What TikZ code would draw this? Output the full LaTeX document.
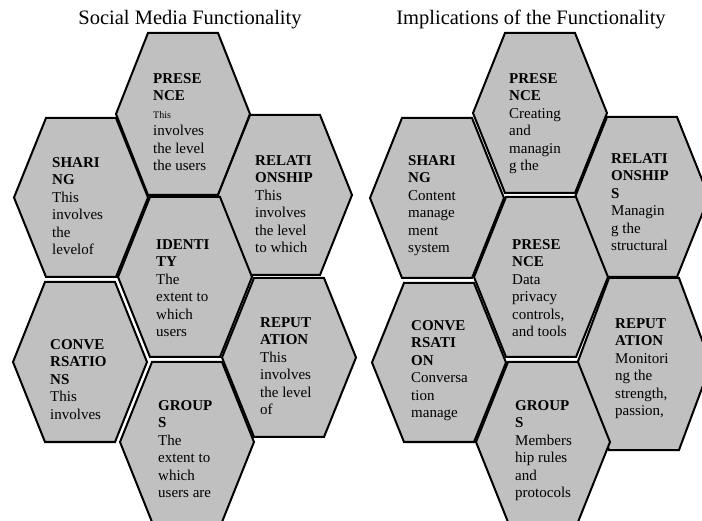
\documentclass[tikz,border=0pt]{standalone}
\usepackage{fontspec}
\setmainfont{Liberation Serif}
\definecolor{hexgray}{RGB}{192,192,192}
\tikzset{
  hexstyle/.style={draw=black, fill=hexgray, line width=2pt, line join=miter},
  txt/.style={anchor=north west, align=left, inner sep=0pt, font={\fontsize{15}{17.5}\selectfont}},
  ttl/.style={anchor=base, inner sep=0pt, font={\fontsize{20.5}{24}\selectfont}}
}
% name, cx, top, bottom
\newcommand{\hexcell}[4]{%
  \coordinate (#1) at (#2,{(#3+#4)/2});
  \draw[hexstyle] ({#2-35},#3) -- ({#2+35},#3) -- ({#2+67},{(#3+#4)/2}) -- ({#2+35},#4) -- ({#2-35},#4) -- ({#2-67},{(#3+#4)/2}) -- cycle;
}
\newcommand{\smalltxt}[1]{{\fontsize{10}{12}\selectfont #1}}
% first line strut: top of node = baseline - 11pt
\newcommand{\fl}{\rule{0pt}{11pt}}
\begin{document}
\begin{tikzpicture}[x=1pt,y=-1pt]
\useasboundingbox (0,0) rectangle (702,521);
\fill[white] (0,0) rectangle (702,521);

% titles
\node[ttl] (title-l) at (190,25) {Social Media Functionality};
\node[ttl] (title-r) at (531,25) {Implications of the Functionality};

% left honeycomb
\hexcell{lpres}{183}{33}{195}
\hexcell{lshar}{81}{118}{277}
\hexcell{lrel}{285}{115}{275}
\hexcell{lid}{185}{197}{357}
\hexcell{lconv}{80}{282}{442}
\hexcell{lrep}{289}{278}{437}
\hexcell{lgrp}{187}{362}{522}

% right honeycomb
\hexcell{rpres}{540}{33}{193}
\hexcell{rshar}{437}{118}{278}
\hexcell{rrel}{642}{117}{277}
\hexcell{rpres2}{541}{197}{357}
\hexcell{rconv}{439}{283}{442}
\hexcell{rrep}{644}{278}{450}
\hexcell{rgrp}{543}{362}{522}

% left texts (y = first baseline - 11)
\node[txt] (t-lpres) at (153,72) {\fl\textbf{PRESE}\\\textbf{NCE}\\\smalltxt{This}\\involves\\the level\\the users};
\node[txt] (t-lshar) at (52,156) {\fl\textbf{SHARI}\\\textbf{NG}\\This\\involves\\the\\levelof};
\node[txt] (t-lrel) at (255,154) {\fl\textbf{RELATI}\\\textbf{ONSHIP}\\This\\involves\\the level\\to which};
\node[txt] (t-lid) at (156,238) {\fl\textbf{IDENTI}\\\textbf{TY}\\The\\extent to\\which\\users};
\node[txt] (t-lconv) at (50,338) {\fl\textbf{CONVE}\\\textbf{RSATIO}\\\textbf{NS}\\This\\involves};
\node[txt] (t-lrep) at (260,316) {\fl\textbf{REPUT}\\\textbf{ATION}\\This\\involves\\the level\\of};
\node[txt] (t-lgrp) at (158,399) {\fl\textbf{GROUP}\\\textbf{S}\\The\\extent to\\which\\users are};

% right texts
\node[txt] (t-rpres) at (509,72) {\fl\textbf{PRESE}\\\textbf{NCE}\\Creating\\and\\managin\\g the};
\node[txt] (t-rshar) at (408,154) {\fl\textbf{SHARI}\\\textbf{NG}\\Content\\manage\\ment\\system};
\node[txt] (t-rrel) at (611,152) {\fl\textbf{RELATI}\\\textbf{ONSHIP}\\\textbf{S}\\Managin\\g the\\structural};
\node[txt] (t-rpres2) at (512,238) {\fl\textbf{PRESE}\\\textbf{NCE}\\Data\\privacy\\controls,\\and tools};
\node[txt] (t-rconv) at (411,319) {\fl\textbf{CONVE}\\\textbf{RSATI}\\\textbf{ON}\\Conversa\\tion\\manage};
\node[txt] (t-rrep) at (615,317) {\fl\textbf{REPUT}\\\textbf{ATION}\\Monitori\\ng the\\strength,\\passion,};
\node[txt] (t-rgrp) at (515,399) {\fl\textbf{GROUP}\\\textbf{S}\\Members\\hip rules\\and\\protocols};
\end{tikzpicture}
\end{document}
